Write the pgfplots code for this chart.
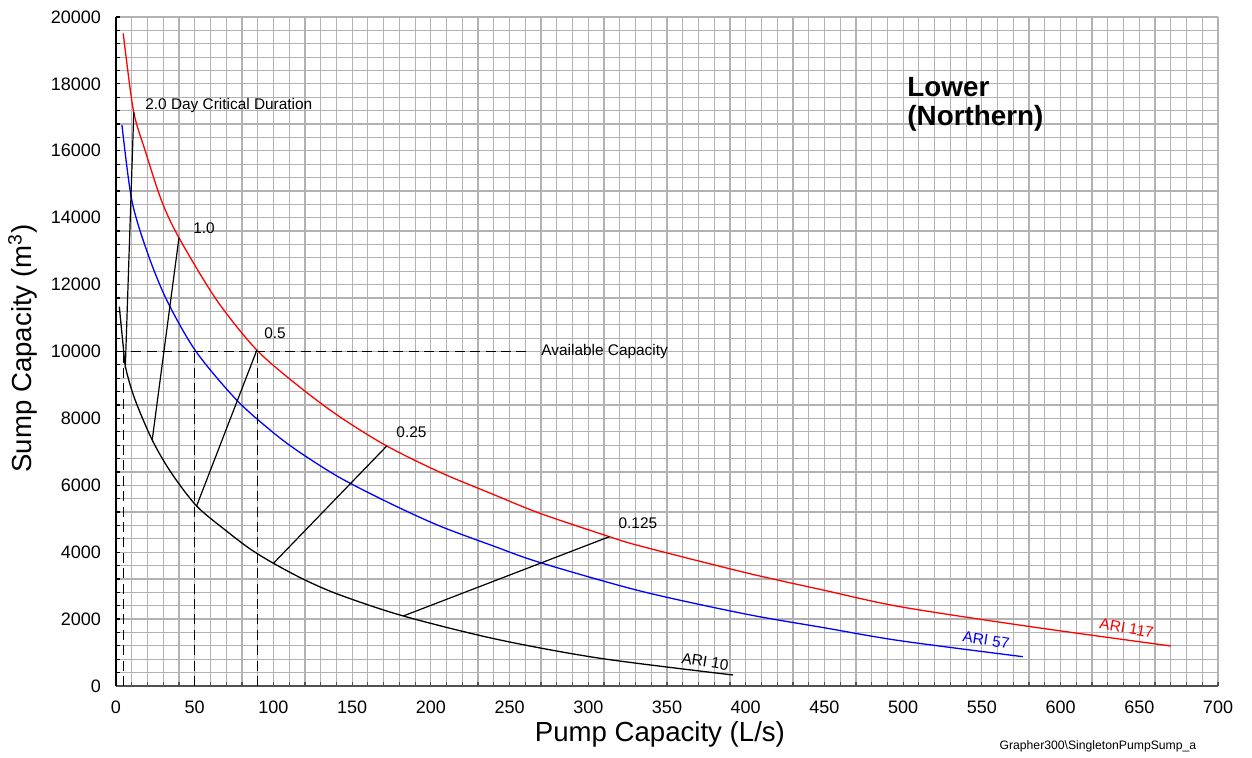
\documentclass[border=0pt]{standalone}
\usepackage{pgfplots}
\pgfplotsset{compat=1.18}
\usepackage{fontspec}
\setmainfont{Liberation Sans}
\definecolor{gridgray}{RGB}{178,178,178}
\definecolor{axisgray}{RGB}{80,80,80}
\begin{document}
\begin{tikzpicture}
\begin{axis}[
  scale only axis, width=551pt, height=334.5pt,
  xmin=0, xmax=700, ymin=0, ymax=20000,
  xtick={0,50,...,700}, ytick={0,2000,...,20000},
  minor x tick num=4, minor y tick num=4,
  grid=both,
  every major grid/.style={draw=gridgray, line width=0.6pt},
  every minor grid/.style={draw=gridgray, line width=0.6pt},
  axis x line*=bottom, axis y line*=left,
  x axis line style={-, draw=axisgray, line width=1.1pt},
  y axis line style={-, draw=black, line width=0.8pt},
  tick align=inside, major tick length=1.8pt, minor tick length=1.8pt,
  xtick style={draw=axisgray, line width=0.6pt},
  ytick style={draw=black, line width=0.6pt},
  scaled ticks=false,
  /pgf/number format/1000 sep={},
  /pgf/number format/assume math mode=true,
  tick label style={font=\fontsize{9}{10}\selectfont},
  xticklabel style={yshift=-4pt},
  yticklabel style={xshift=-4pt},
  clip=false,
]
% ARI 117
\addplot[red, line width=0.65pt, smooth] coordinates {
(4.6,19510) (11,17220) (18.4,16024) (29,14500) (40,13400) (63.9,11540) (89.4,10045)
(116.9,8930) (142.3,8042) (172,7175) (205.8,6390) (240,5720) (269.4,5160) (313.4,4464) (333,4185)
(400,3387) (450,2860) (498,2371) (580,1780) (670,1196)};
% ARI 57
\addplot[blue, line width=0.65pt, smooth] coordinates {
(3.8,16770) (10,14530) (20,12950) (32.2,11540) (50.6,10015) (76.6,8550) (100,7571) (116.9,6980)
(142.3,6225) (175,5439) (205.8,4780) (240,4180) (269.4,3690) (333,2840) (400,2150) (450,1740) (498,1354) (576,876)};
% ARI 10
\addplot[black, line width=0.65pt, smooth] coordinates {
(2.1,11340) (4.5,10200) (6.2,9500) (12,8570) (23,7354) (35,6380) (51.2,5381) (70,4640) (85.1,4100)
(100,3668) (120,3170) (142.3,2720) (182.5,2093) (241.9,1396) (307.5,828) (392,329)};
% critical duration lines
\addplot[black, line width=0.6pt] coordinates {(5.9,9500) (11.3,17150)};
\addplot[black, line width=0.6pt] coordinates {(23,7354) (40,13400)};
\addplot[black, line width=0.6pt] coordinates {(51.2,5381) (89.5,10045)};
\addplot[black, line width=0.6pt] coordinates {(100,3668) (172,7175)};
\addplot[black, line width=0.6pt] coordinates {(182.5,2093) (313.4,4464)};
% available capacity
\addplot[black, line width=0.6pt, dash pattern=on 5pt off 2.7pt] coordinates {(0,10000) (261,10000)};
\addplot[black, line width=0.6pt, dash pattern=on 5pt off 2.7pt] coordinates {(5,0) (5,10000)};
\addplot[black, line width=0.6pt, dash pattern=on 5pt off 2.7pt] coordinates {(50,0) (50,10000)};
\addplot[black, line width=0.6pt, dash pattern=on 5pt off 2.7pt] coordinates {(90,0) (90,10000)};
% labels
\node[anchor=base west, font=\fontsize{7.7}{9}\selectfont, inner sep=0pt] at (axis cs:18.4,17220) {2.0 Day Critical Duration};
\node[anchor=base west, font=\fontsize{7.7}{9}\selectfont, inner sep=0pt] at (axis cs:48.9,13513) {1.0};
\node[anchor=base west, font=\fontsize{7.7}{9}\selectfont, inner sep=0pt] at (axis cs:94,10374) {0.5};
\node[anchor=base west, font=\fontsize{7.7}{9}\selectfont, inner sep=0pt] at (axis cs:177.9,7423) {0.25};
\node[anchor=base west, font=\fontsize{7.7}{9}\selectfont, inner sep=0pt] at (axis cs:319,4714) {0.125};
\node[anchor=west, font=\fontsize{7.7}{9}\selectfont, inner sep=0pt] at (axis cs:270,10000) {Available Capacity};
\node[anchor=base west, font=\bfseries\fontsize{13.9}{15}\selectfont, inner sep=0pt] at (axis cs:502.5,17617) {Lower};
\node[anchor=base west, font=\bfseries\fontsize{13.9}{15}\selectfont, inner sep=0pt] at (axis cs:502.5,16770) {(Northern)};
\node[red, rotate=-10, font=\fontsize{7.7}{9}\selectfont, inner sep=0pt] at (axis cs:642,1725) {ARI 117};
\node[blue, rotate=-9, font=\fontsize{7.7}{9}\selectfont, inner sep=0pt] at (axis cs:552.7,1375) {ARI 57};
\node[black, rotate=-9, font=\fontsize{7.7}{9}\selectfont, inner sep=0pt] at (axis cs:374.2,727) {ARI 10};
\node[anchor=base west, font=\fontsize{6.1}{7}\selectfont, inner sep=0pt] at (axis cs:561,-1913) {Grapher300\textbackslash SingletonPumpSump\_a};
\node[anchor=base, font=\fontsize{13.8}{15}\selectfont, inner sep=0pt] at ([yshift=-28pt]axis description cs:0.4936,0) {Pump Capacity (L/s)};
\node[anchor=base, rotate=90, font=\fontsize{13.8}{15}\selectfont, inner sep=0pt] at ([xshift=-42pt]axis description cs:0,0.5045) {Sump Capacity (m\textsuperscript{3})};
\end{axis}
\pgfresetboundingbox
\path[use as bounding box] (current axis.south west) ++(-58pt,-36pt) rectangle ++(626pt,379pt);
\end{tikzpicture}
\end{document}
